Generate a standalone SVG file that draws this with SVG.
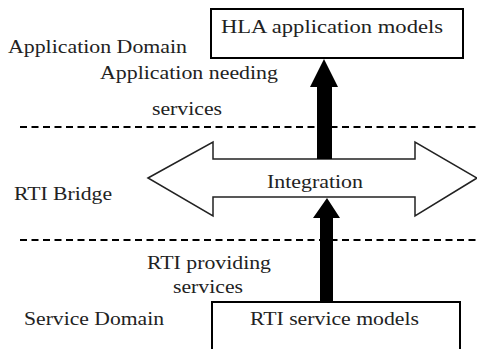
<svg xmlns="http://www.w3.org/2000/svg" width="477" height="349" viewBox="0 0 477 349">
<style>
.t{font-family:"Liberation Serif","Times New Roman","DejaVu Serif",serif;font-size:18px;fill:#222}
.box{fill:#fff;stroke:#000;stroke-width:2}
.dash{stroke:#000;stroke-width:2;stroke-dasharray:7 4.5;fill:none}
.big{fill:#fff;stroke:#222;stroke-width:1.5;stroke-linejoin:miter}
.solid{fill:#000}
</style>
<rect width="477" height="349" fill="#fff"/>
<g id="lines">
<line class="dash" x1="20" y1="127" x2="477" y2="127"/>
<line class="dash" x1="20" y1="240" x2="477" y2="240"/>
</g>
<g id="labels">
<text class="t" x="8" y="53" textLength="179" lengthAdjust="spacingAndGlyphs">Application Domain</text>
<text class="t" x="14" y="200" textLength="98" lengthAdjust="spacingAndGlyphs">RTI Bridge</text>
<text class="t" x="24" y="325" textLength="140" lengthAdjust="spacingAndGlyphs">Service Domain</text>
</g>
<g id="hla">
<rect class="box" x="211" y="9" width="252" height="49"/>
<text class="t" x="221" y="33" textLength="222" lengthAdjust="spacingAndGlyphs">HLA application models</text>
</g>
<g id="rti">
<rect class="box" x="212" y="302" width="248" height="60"/>
<text class="t" x="250" y="325" textLength="169" lengthAdjust="spacingAndGlyphs">RTI service models</text>
</g>
<g id="integration">
<polygon class="big" points="148,178 213,142 213,159 415,159 415,142 477,178 415,216 415,197 213,197 213,216"/>
<text class="t" x="267" y="188" textLength="96" lengthAdjust="spacingAndGlyphs">Integration</text>
</g>
<g id="connectors">
<polygon class="solid" points="324,59 338,87 332,87 332,159 317,159 317,87 310,87"/>
<text class="t" x="100" y="79" textLength="178" lengthAdjust="spacingAndGlyphs">Application needing</text>
<text class="t" x="152" y="115" textLength="70" lengthAdjust="spacingAndGlyphs">services</text>
<polygon class="solid" points="327,198 340,218 333,218 333,301 320,301 320,218 313,218"/>
<text class="t" x="147" y="269" textLength="124" lengthAdjust="spacingAndGlyphs">RTI providing</text>
<text class="t" x="173" y="293" textLength="70" lengthAdjust="spacingAndGlyphs">services</text>
</g>
</svg>
